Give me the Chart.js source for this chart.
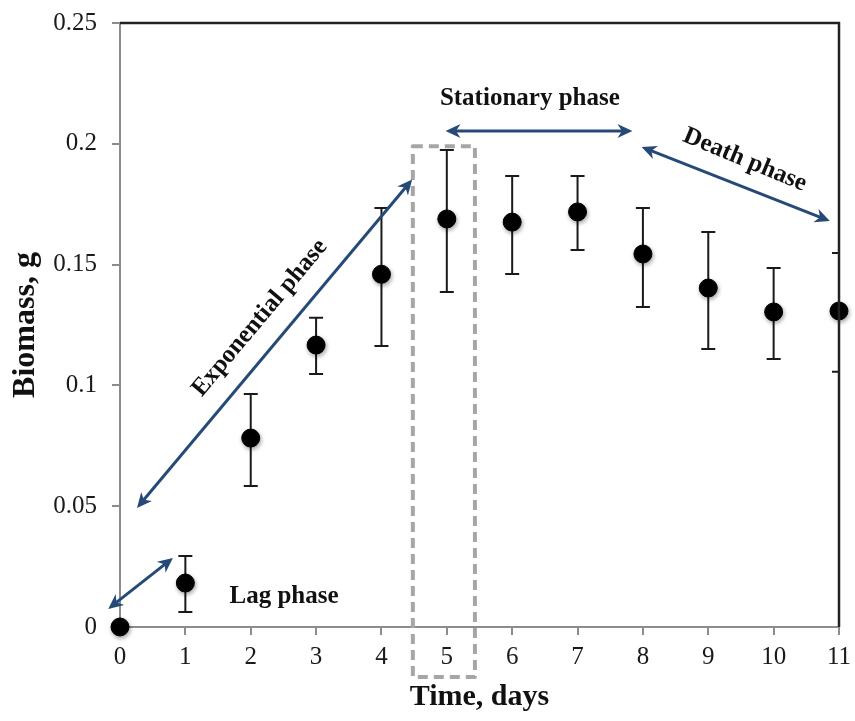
<!DOCTYPE html>
<html>
<head>
<meta charset="utf-8">
<script src="https://cdn.jsdelivr.net/npm/chart.js@4/dist/chart.umd.min.js"></script>
<style>
html,body{margin:0;padding:0;background:#fff;}
#wrap{width:855px;height:721px;position:relative;}
</style>
</head>
<body>
<div id="wrap"><canvas id="c" width="855" height="721"></canvas></div>
<script>
// ---- data ----
const days = [0, 1, 2, 3, 4, 5, 6, 7, 8, 9, 10, 11];
const biomass = [0, 0.0182, 0.0782, 0.1167, 0.1460, 0.1689, 0.1676, 0.1718, 0.1544, 0.1403, 0.1304, 0.1308];
const errUpper = [0, 0.0294, 0.0964, 0.1280, 0.1734, 0.1974, 0.1867, 0.1867, 0.1734, 0.1635, 0.1486, 0.1548];
const errLower = [0, 0.0062, 0.0584, 0.1047, 0.1163, 0.1387, 0.1461, 0.1560, 0.1325, 0.1151, 0.1109, 0.1056];
const xTickLabels = ['0','1','2','3','4','5','6','7','8','9','10','11'];
const yTickLabels = ['0','0.05','0.1','0.15','0.2','0.25'];
const xTitle = 'Time, days';
const yTitle = 'Biomass, g';
// phase annotations (data coordinates: day, biomass)
const phaseNames = ['Lag phase', 'Exponential phase', 'Stationary phase', 'Death phase'];
const phaseArrows = [
  [-0.18, 0.0075, 0.81, 0.0286],
  [0.26, 0.0493, 4.47, 0.1852],
  [4.98, 0.2053, 7.84, 0.2053],
  [7.98, 0.1987, 10.86, 0.1680]
];
const phaseLabelPos = [[2.51, 0.0124], [2.14, 0.1279], [6.27, 0.2186], [9.56, 0.1933]];
const phaseLabelAngle = [0, -50, 0, 22.5];
const highlightBox = [4.48, 5.43, 0.199, -0.0207];

const serif = "'Liberation Serif', 'Times New Roman', serif";
const navy = '#264a78';

function drawArrowHead(ctx, x1, y1, x2, y2) {
  const a = Math.atan2(y2 - y1, x2 - x1);
  const L = 15, W = 7;
  ctx.beginPath();
  ctx.moveTo(x2, y2);
  ctx.lineTo(x2 - L * Math.cos(a) + W * Math.sin(a), y2 - L * Math.sin(a) - W * Math.cos(a));
  ctx.lineTo(x2 - L * 0.7 * Math.cos(a), y2 - L * 0.7 * Math.sin(a));
  ctx.lineTo(x2 - L * Math.cos(a) - W * Math.sin(a), y2 - L * Math.sin(a) + W * Math.cos(a));
  ctx.closePath();
  ctx.fill();
}

const decorPlugin = {
  id: 'decor',
  beforeDatasetsDraw(chart) {
    const {ctx, chartArea, scales: {x, y}} = chart;
    // error bars (clipped at the right frame)
    ctx.save();
    ctx.beginPath();
    ctx.rect(0, chartArea.top, chartArea.right, chartArea.bottom);
    ctx.clip();
    ctx.strokeStyle = '#1a1a1a';
    ctx.lineWidth = 2;
    days.forEach((d, i) => {
      if (errUpper[i] === errLower[i]) return;
      const px = x.getPixelForValue(d);
      const yt = y.getPixelForValue(errUpper[i]);
      const yb = y.getPixelForValue(errLower[i]);
      ctx.beginPath();
      ctx.moveTo(px, yt); ctx.lineTo(px, yb);
      ctx.moveTo(px - 7, yt); ctx.lineTo(px + 7, yt);
      ctx.moveTo(px - 7, yb); ctx.lineTo(px + 7, yb);
      ctx.stroke();
    });
    ctx.restore();
    // dashed highlight box
    ctx.save();
    ctx.strokeStyle = '#a6a6a6';
    ctx.lineWidth = 4;
    ctx.setLineDash([10, 6]);
    ctx.lineJoin = 'round';
    const bx1 = x.getPixelForValue(highlightBox[0]);
    const bx2 = x.getPixelForValue(highlightBox[1]);
    const by1 = y.getPixelForValue(highlightBox[2]);
    const by2 = y.getPixelForValue(highlightBox[3]);
    ctx.strokeRect(bx1, by1, bx2 - bx1, by2 - by1);
    ctx.restore();
    // shadow for points
    ctx.save();
    ctx.shadowColor = 'rgba(0,0,0,0.35)';
    ctx.shadowBlur = 4;
    ctx.shadowOffsetX = 1;
    ctx.shadowOffsetY = 2;
  },
  afterDatasetsDraw(chart) {
    const {ctx, chartArea, scales: {x, y}} = chart;
    ctx.restore();
    // top and right frame
    ctx.save();
    ctx.strokeStyle = '#222';
    ctx.lineWidth = 2.5;
    ctx.beginPath();
    ctx.moveTo(chartArea.left, chartArea.top);
    ctx.lineTo(chartArea.right, chartArea.top);
    ctx.lineTo(chartArea.right, chartArea.bottom);
    ctx.stroke();
    ctx.restore();
    // arrows
    ctx.save();
    ctx.strokeStyle = navy;
    ctx.fillStyle = navy;
    ctx.lineWidth = 3;
    phaseArrows.forEach(a => {
      const x1 = x.getPixelForValue(a[0]), y1 = y.getPixelForValue(a[1]);
      const x2 = x.getPixelForValue(a[2]), y2 = y.getPixelForValue(a[3]);
      const ang = Math.atan2(y2 - y1, x2 - x1);
      ctx.beginPath();
      ctx.moveTo(x1 + 10 * Math.cos(ang), y1 + 10 * Math.sin(ang));
      ctx.lineTo(x2 - 10 * Math.cos(ang), y2 - 10 * Math.sin(ang));
      ctx.stroke();
      drawArrowHead(ctx, x1, y1, x2, y2);
      drawArrowHead(ctx, x2, y2, x1, y1);
    });
    ctx.restore();
    // labels
    ctx.save();
    ctx.fillStyle = '#111';
    ctx.font = 'bold 25px ' + serif;
    ctx.textAlign = 'center';
    ctx.textBaseline = 'middle';
    phaseNames.forEach((t, i) => {
      const px = x.getPixelForValue(phaseLabelPos[i][0]);
      const py = y.getPixelForValue(phaseLabelPos[i][1]);
      ctx.save();
      ctx.translate(px, py);
      ctx.rotate(phaseLabelAngle[i] * Math.PI / 180);
      ctx.fillText(t, 0, 0);
      ctx.restore();
    });
    ctx.restore();
  }
};

new Chart(document.getElementById('c'), {
  type: 'scatter',
  data: {
    datasets: [{
      label: 'Biomass',
      data: days.map((d, i) => ({x: d, y: biomass[i]})),
      backgroundColor: '#000',
      borderColor: '#000',
      pointRadius: 9,
      pointHoverRadius: 9,
      clip: false
    }]
  },
  options: {
    responsive: false,
    animation: false,
    events: [],
    layout: {padding: {top: 23, right: 16, left: 0, bottom: 0}},
    plugins: {legend: {display: false}, tooltip: {enabled: false}},
    scales: {
      x: {
        type: 'linear', min: 0, max: 11,
        afterFit(s) { s.height = 94; s.paddingLeft = 0; s.paddingRight = 0; },
        ticks: {
          stepSize: 1, padding: 7, color: '#1a1a1a',
          font: {family: serif, size: 25},
          callback: (v, i) => xTickLabels[i]
        },
        grid: {drawOnChartArea: false, drawTicks: true, tickLength: 8, color: '#8c8c8c', lineWidth: 2},
        border: {color: '#8c8c8c', width: 2},
        title: {display: true, text: xTitle, color: '#111', padding: {top: 0, bottom: 6},
          font: {family: serif, size: 30, weight: 'bold'}}
      },
      y: {
        min: 0, max: 0.25,
        afterFit(s) { s.width = 120; s.paddingTop = 0; s.paddingBottom = 0; },
        ticks: {
          stepSize: 0.05, padding: 15, color: '#1a1a1a',
          font: {family: serif, size: 25},
          callback: (v, i) => yTickLabels[i]
        },
        grid: {drawOnChartArea: false, drawTicks: true, tickLength: 8, color: '#8c8c8c', lineWidth: 2},
        border: {color: '#8c8c8c', width: 2},
        title: {display: true, text: yTitle, color: '#111', padding: {top: 7, bottom: 0},
          font: {family: serif, size: 32, weight: 'bold'}}
      }
    }
  },
  plugins: [decorPlugin]
});
</script>
</body>
</html>
